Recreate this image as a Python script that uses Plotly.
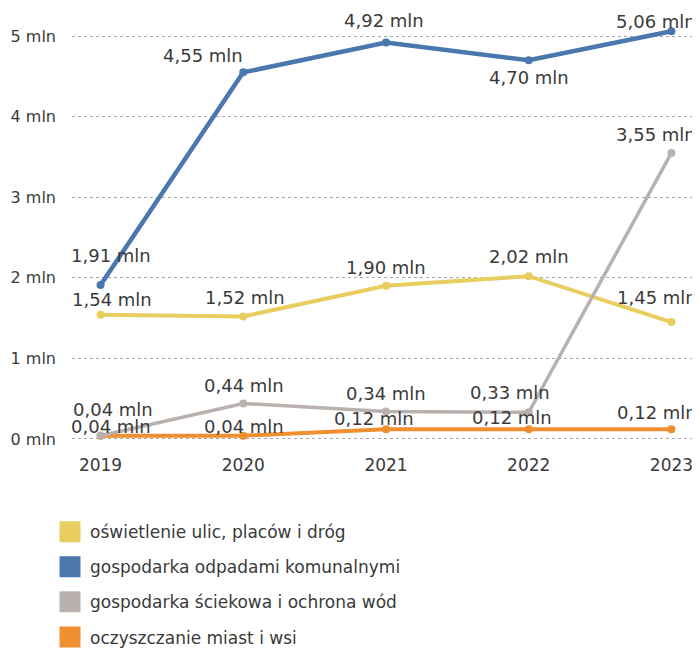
import plotly.graph_objects as go

YEARS = [2019, 2020, 2021, 2022, 2023]

LIGHTING = [1.54, 1.52, 1.90, 2.02, 1.45]
WASTE = [1.91, 4.55, 4.92, 4.70, 5.06]
SEWAGE = [0.04, 0.44, 0.34, 0.33, 3.55]
CLEANING = [0.04, 0.04, 0.12, 0.12, 0.12]

NAMES = [
    "oświetlenie ulic, placów i dróg",
    "gospodarka odpadami komunalnymi",
    "gospodarka ściekowa i ochrona wód",
    "oczyszczanie miast i wsi",
]

Y_TICKS = [0, 1, 2, 3, 4, 5]
Y_TICK_TEXT = ["0 mln", "1 mln", "2 mln", "3 mln", "4 mln", "5 mln"]

FONT = "DejaVu Sans"
TEXT_COLOR = "#3a3a3a"

# name, values, colour, line width, label offsets (px) per point
series = [
    (NAMES[0], LIGHTING, "#e9cd5e", 4,
     [(11, 15), (2, 19), (0, 18), (0, 20), (-14, 25)]),
    (NAMES[1], WASTE, "#4a77ad", 4.5,
     [(10, 30), (-40, 17), (-2, 22), (0, -17), (-15, 10)]),
    (NAMES[2], SEWAGE, "#b9b1ae", 3.5,
     [(12, 26), (1, 18), (0, 18), (-19, 20), (-15, 18)]),
    (NAMES[3], CLEANING, "#ef8f30", 4,
     [(10, 9), (1, 9), (-12, 11), (-17, 12), (-14, 17)]),
]

draw_order = [3, 0, 2, 1]


def fmt(v):
    return f"{v:.2f}".replace(".", ",") + " mln"


fig = go.Figure()

for i in draw_order:
    name, vals, color, width, _ = series[i]
    fig.add_trace(go.Scatter(
        x=YEARS, y=vals, mode="lines+markers", name=name,
        line=dict(color=color, width=width),
        marker=dict(color=color, size=8),
        showlegend=False,
    ))

# legend swatches (squares), in legend order
for k, (name, vals, color, width, _) in enumerate(series):
    fig.add_trace(go.Scatter(
        x=[None], y=[None], mode="markers", name=name,
        legendgroup=f"g{k}",
        marker=dict(color=color, symbol="square", size=16,
                    line=dict(color=color, width=5)),
    ))

annotations = []
for name, vals, color, width, shifts in series:
    for yr, v, (dx, dy) in zip(YEARS, vals, shifts):
        annotations.append(dict(
            x=yr, y=v, text=fmt(v), showarrow=False,
            xanchor="center", yanchor="middle",
            xshift=dx, yshift=dy,
            font=dict(family=FONT, size=18, color=TEXT_COLOR),
        ))

# the page body adds an 8px margin, so the plot is placed 8px up/left
fig.update_layout(
    width=700, height=648,
    margin=dict(l=64, r=8, t=12, b=205, autoexpand=False),
    paper_bgcolor="white",
    plot_bgcolor="white",
    font=dict(family=FONT, color=TEXT_COLOR, size=16),
    annotations=annotations,
    legend=dict(
        orientation="v",
        xref="container", yref="container",
        x=0.06, y=0.219, xanchor="left", yanchor="top",
        font=dict(family=FONT, size=17, color=TEXT_COLOR),
        tracegroupgap=10,
        bgcolor="rgba(0,0,0,0)",
    ),
    xaxis=dict(
        range=[2018.8, 2023.2],
        tickvals=YEARS,
        ticktext=[str(y) for y in YEARS],
        showgrid=False, zeroline=False, showline=False,
        tickfont=dict(family=FONT, size=17, color=TEXT_COLOR),
        ticklabelstandoff=2,
        fixedrange=True,
    ),
    yaxis=dict(
        range=[-0.15, 5.2],
        tickvals=Y_TICKS,
        ticktext=Y_TICK_TEXT,
        showgrid=True, gridcolor="#a8a8a8", griddash="dot", gridwidth=1,
        zeroline=False, showline=False,
        tickfont=dict(family=FONT, size=16, color=TEXT_COLOR),
        ticklabelstandoff=15,
        fixedrange=True,
    ),
)

fig.write_html("out.html")
